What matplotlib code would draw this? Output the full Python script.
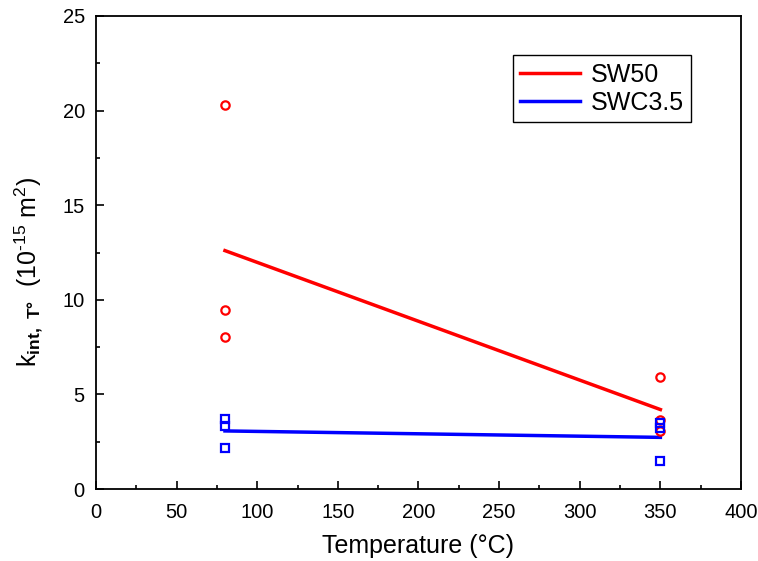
import matplotlib.pyplot as plt
import numpy as np

plt.rcParams['font.family'] = ['Liberation Sans', 'DejaVu Sans']
plt.rcParams['mathtext.fontset'] = 'custom'
plt.rcParams['mathtext.rm'] = 'Liberation Sans'
plt.rcParams['mathtext.bf'] = 'Liberation Sans:bold'

# measured points
temp_sw50 = [80, 80, 80, 350, 350, 350]
k_sw50 = [20.3, 9.46, 8.03, 5.92, 3.65, 3.05]
temp_swc = [80, 80, 80, 350, 350, 350]
k_swc = [3.7, 3.33, 2.17, 3.5, 3.2, 1.48]

# fitted lines
fit_x = [80, 350]
fit_sw50 = [12.6, 4.2]
fit_swc = [3.07, 2.73]

fig = plt.figure(figsize=(7.58, 5.61), dpi=100)
ax = fig.add_axes([0.1266, 0.1283, 0.851, 0.8432])

ax.plot(fit_x, fit_sw50, color='red', lw=2.5, label='SW50')
ax.plot(fit_x, fit_swc, color='blue', lw=2.5, label='SWC3.5')
ax.plot(temp_sw50, k_sw50, 'o', ms=6, mfc='none', mec='red', mew=1.6)
ax.plot(temp_swc, k_swc, 's', ms=5.5, mfc='none', mec='blue', mew=1.6)

ax.set_xlim(0, 400)
ax.set_ylim(0, 25)
ax.set_xticks(np.arange(0, 401, 50))
ax.set_yticks(np.arange(0, 26, 5))
ax.set_xticks(np.arange(25, 400, 50), minor=True)
ax.set_yticks(np.arange(2.5, 25, 5), minor=True)
ax.tick_params(which='both', direction='in', labelsize=14.5, width=1.2)
ax.tick_params(axis='x', which='major', pad=10)
ax.tick_params(axis='y', which='major', pad=8)
ax.tick_params(which='major', length=6)
ax.tick_params(which='minor', length=3)
for s in ax.spines.values():
    s.set_linewidth(1.3)

ax.set_xlabel('Temperature (°C)', fontsize=18, labelpad=9)
ax.set_ylabel(r'k$_{\mathbf{int,\ T°}}$  (10$^{\text{-15}}$ m$^{\mathrm{2}}$)',
              fontsize=18)
ax.yaxis.set_label_coords(-0.079, 0.459)

leg = ax.legend(loc='upper left', bbox_to_anchor=(0.6465, 0.9175), fontsize=18,
                fancybox=False, edgecolor='black', framealpha=1,
                handlelength=2.4, borderpad=0.3, labelspacing=0.16,
                handletextpad=0.4, borderaxespad=0)
leg.get_frame().set_linewidth(1.0)

fig.savefig('out.png', dpi=100)
